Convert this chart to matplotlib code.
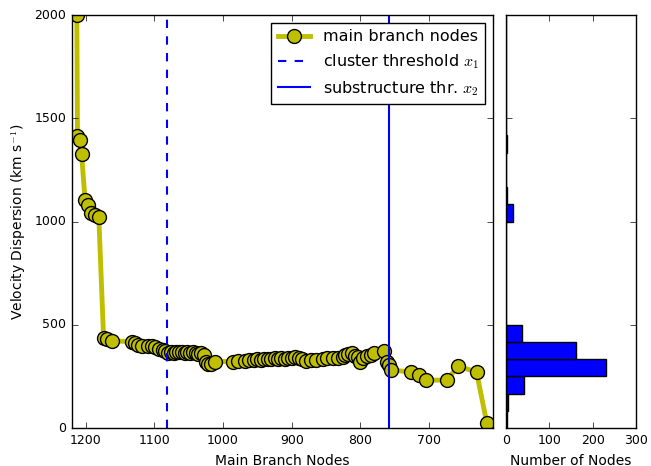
import numpy as np
import matplotlib
matplotlib.use("Agg")
import matplotlib.pyplot as plt

# main branch: node index vs velocity dispersion (km/s)
node_idx = [1213, 1212, 1209, 1206, 1201, 1197, 1193, 1187, 1181,
            1174, 1169, 1162,
            1132, 1128, 1124, 1118, 1110, 1104, 1099, 1093, 1088, 1084,
            1080, 1076, 1072, 1068, 1064, 1060, 1056, 1052, 1048, 1044,
            1040, 1036, 1032, 1028, 1025, 1022, 1018, 1012,
            985, 978, 968, 962, 955, 950, 945, 940, 935, 930, 925, 920,
            915, 910, 905, 900, 895, 890, 885, 880, 872, 865, 855, 848,
            840, 832, 826, 822, 818, 812, 808, 804, 800, 796, 790, 785,
            781, 766, 762, 759, 755, 726, 715, 704, 674, 658, 631, 616]
sigma_v = [2000, 1415, 1395, 1325, 1104, 1080, 1041, 1031, 1022,
           436, 432, 422,
           418, 410, 400, 395, 398, 395, 390, 385, 380, 372,
           362, 368, 365, 370, 366, 368, 364, 366, 362, 368,
           365, 360, 362, 355, 318, 310, 312, 322,
           322, 325, 325, 330, 328, 332, 330, 335, 332, 335, 338, 333,
           338, 335, 340, 338, 342, 338, 335, 325, 330, 328, 335, 338,
           340, 338, 345, 355, 358, 362, 350, 345, 322, 340, 350, 355,
           363, 373, 320, 305, 281, 271, 257, 232, 232, 300, 271, 24]

x1_thr = 1082
x2_thr = 758

# histogram of node dispersions (24 bins over 0-2000)
hist_edges = np.linspace(0, 2000, 25)
hist_counts = [3, 5, 42, 231, 161, 37, 0, 0, 0, 0, 0, 0,
               15, 3, 0, 0, 3, 1, 1, 1, 1, 1, 1, 1]

plt.style.use("classic")
plt.rcParams["mathtext.fontset"] = "cm"
plt.rcParams["font.family"] = "DejaVu Sans"

fig = plt.figure(figsize=(6.51, 4.66), dpi=100, facecolor="white")
ax = fig.add_axes([0.1106, 0.0815, 0.6467, 0.8863])
axh = fig.add_axes([0.7773, 0.0815, 0.1996, 0.8863])

ax.plot(node_idx, sigma_v, "-o", color="y", lw=3.5, ms=10,
        mec="black", mew=1, label="main branch nodes")
ax.axvline(x1_thr, color="b", ls="--", lw=1.5, label=r"cluster threshold $x_1$")
ax.axvline(x2_thr, color="b", ls="-", lw=1.5, label=r"substructure thr. $x_2$")
ax.set_xlim(1220, 607)
ax.set_ylim(0, 2000)
ax.set_xticks([1200, 1100, 1000, 900, 800, 700])
ax.set_yticks([0, 500, 1000, 1500, 2000])
ax.set_xlabel("Main Branch Nodes", fontsize=10)
ax.set_ylabel(r"Velocity Dispersion (km s$^{-1}$)", fontsize=10)
ax.tick_params(labelsize=9)
ax.legend(loc="upper right", numpoints=1, fontsize=11.5)

centers = 0.5 * (hist_edges[:-1] + hist_edges[1:])
axh.hist(centers, bins=hist_edges, weights=hist_counts,
         orientation="horizontal", color="b", edgecolor="black")
axh.set_xlim(0, 300)
axh.set_ylim(0, 2000)
axh.set_xticks([0, 100, 200, 300])
axh.set_yticks([0, 500, 1000, 1500, 2000])
axh.set_yticklabels([])
axh.set_xlabel("Number of Nodes", fontsize=10)
axh.tick_params(labelsize=9)

fig.savefig("out.png", dpi=100, facecolor="white")
